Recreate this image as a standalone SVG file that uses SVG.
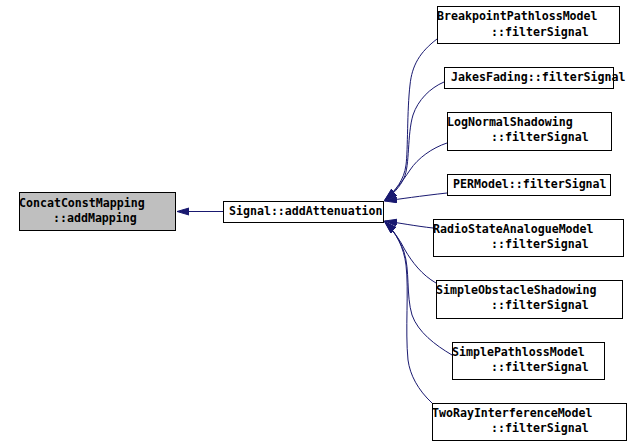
<svg xmlns="http://www.w3.org/2000/svg" width="641" height="447" viewBox="0 0 641 447">
<style>
.box{fill:#ffffff;stroke:#000000;stroke-width:1}
.cur{fill:#bfbfbf;stroke:#000000;stroke-width:1}
.t{font-family:"DejaVu Sans Mono","Liberation Mono",monospace;font-size:11.6px;font-weight:bold;fill:#000000}
.e{fill:none;stroke:#191970;stroke-width:1;marker-end:url(#arr)}
</style>
<defs>
<marker id="arr" markerUnits="userSpaceOnUse" markerWidth="13" markerHeight="9" refX="12" refY="4" orient="auto" viewBox="0 0 13 9">
<path d="M0,0.5 L12,4 L0,7.5 z" fill="#191970" stroke="#191970" stroke-width="1"/>
</marker>
</defs>
<rect width="641" height="447" fill="#ffffff"/>
<g id="connectors">
<path class="e" d="M223,211.5 L177,211.5"/>
<path class="e" d="M437,39 C420,52 412,65 410,85 C407,110 408,150 406,165 C404,180 396,190 385,200"/>
<path class="e" d="M444,82 C430,88 418,100 413,115 C407,135 410,165 404,178 C400,187 393,194 385,200"/>
<path class="e" d="M447,143 C432,148 418,158 410,170 C402,182 394,192 385,200"/>
<path class="e" d="M447,193 C420,196 400,199 385,201"/>
<path class="e" d="M433,228 C415,226 400,223 385,221"/>
<path class="e" d="M436,283 C422,275 412,262 405,250 C400,240 393,230 385,222"/>
<path class="e" d="M452,355 C435,345 418,332 412,315 C406,295 410,270 404,252 C400,240 393,230 385,222"/>
<path class="e" d="M432,403 C418,390 410,375 408,360 C405,330 409,290 406,265 C404,248 396,232 385,222"/>
</g>
<g id="node-concat">
<rect class="cur" x="19.5" y="192.5" width="156" height="38"/>
<text class="t" x="19" y="207">ConcatConstMapping</text>
<text class="t" x="53" y="222">::addMapping</text>
</g>
<g id="node-signal">
<rect class="box" x="223.5" y="201.5" width="160" height="21"/>
<text class="t" x="229" y="215">Signal::addAttenuation</text>
</g>
<g id="node-breakpoint">
<rect class="box" x="437.5" y="6.5" width="182" height="37"/>
<text class="t" x="437" y="20">BreakpointPathlossModel</text>
<text class="t" x="491" y="36">::filterSignal</text>
</g>
<g id="node-jakes">
<rect class="box" x="444.5" y="67.5" width="169" height="21"/>
<text class="t" x="451" y="81">JakesFading::filterSignal</text>
</g>
<g id="node-lognormal">
<rect class="box" x="447.5" y="112.5" width="164" height="38"/>
<text class="t" x="447" y="126">LogNormalShadowing</text>
<text class="t" x="491" y="141">::filterSignal</text>
</g>
<g id="node-per">
<rect class="box" x="447.5" y="174.5" width="163" height="21"/>
<text class="t" x="453" y="188">PERModel::filterSignal</text>
</g>
<g id="node-radiostate">
<rect class="box" x="433.5" y="219.5" width="190" height="37"/>
<text class="t" x="433" y="233">RadioStateAnalogueModel</text>
<text class="t" x="491" y="248">::filterSignal</text>
</g>
<g id="node-obstacle">
<rect class="box" x="436.5" y="280.5" width="186" height="38"/>
<text class="t" x="436" y="294">SimpleObstacleShadowing</text>
<text class="t" x="491" y="309">::filterSignal</text>
</g>
<g id="node-pathloss">
<rect class="box" x="452.5" y="342.5" width="152" height="37"/>
<text class="t" x="452" y="356">SimplePathlossModel</text>
<text class="t" x="491" y="371">::filterSignal</text>
</g>
<g id="node-tworay">
<rect class="box" x="432.5" y="403.5" width="194" height="37"/>
<text class="t" x="432" y="417">TwoRayInterferenceModel</text>
<text class="t" x="491" y="432">::filterSignal</text>
</g>
</svg>
